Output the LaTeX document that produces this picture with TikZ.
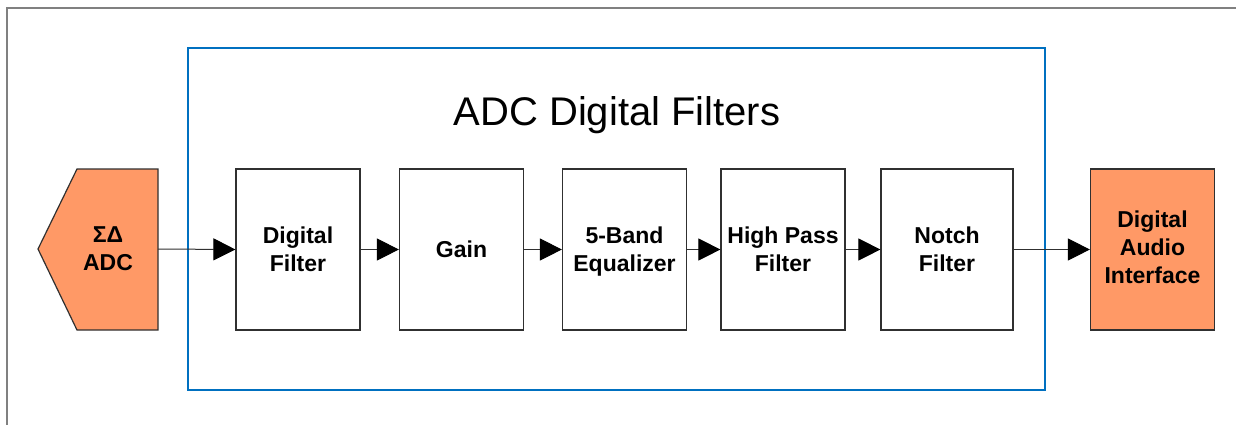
\documentclass[tikz,border=0pt]{standalone}
\usepackage{fontspec}
\setmainfont{Liberation Sans}
\usetikzlibrary{arrows.meta}
\definecolor{adcorange}{HTML}{FF9966}
\definecolor{frameblue}{HTML}{0070C0}
\definecolor{edge}{HTML}{303030}
\begin{document}
\begin{tikzpicture}[x=1pt,y=-1pt,
  lbl/.style={align=center,inner sep=0pt,font=\fontsize{23}{28}\selectfont\bfseries},
  blk/.style={lbl,draw=edge,line width=1.2pt,fill=white,minimum width=124pt,minimum height=161pt},
  arr/.style={draw=edge,line width=1pt,-{Triangle[length=22pt,width=22pt,color=black]}}]
\useasboundingbox (0,0) rectangle (1236,424);
\fill[white] (0,0) rectangle (1236,424);
% outer frame
\draw[gray,line width=1.2pt] (7,8) rectangle (1260,450);
% blue filter region
\draw[frameblue,line width=1.2pt] (188,48) rectangle (1045,390);
\node[font=\fontsize{40}{48}\selectfont] (title) at (617,115) {ADC Digital Filters};
% ADC pentagon
\draw[edge,line width=1.2pt,fill=adcorange] (38,249) -- (77,169) -- (158,169) -- (158,330) -- (77,330) -- cycle;
\node[lbl] (adc) at (108,249) {ΣΔ\\ADC};
\coordinate (adcR) at (158,249);
% blocks
\node[blk] (df) at (298,249.5) {Digital\\Filter};
\node[blk] (gain) at (461.5,249.5) {Gain};
\node[blk] (eq) at (624.5,249.5) {5-Band\\\smash{Equalizer}};
\node[blk] (hp) at (783,249.5) {High Pass\\Filter};
\node[blk,minimum width=132pt] (notch) at (947,249.5) {Notch\\Filter};
\node[blk,fill=adcorange] (dai) at (1152.5,249.5) {};
\node[lbl,yshift=2.5pt] (daitext) at (dai.center) {Digital\\Audio\\Interface};
% connectors
\draw[arr] (adcR) -- (df.west);
\draw[arr] (df.east) -- (gain.west);
\draw[arr] (gain.east) -- (eq.west);
\draw[arr] (eq.east) -- (hp.west);
\draw[arr] (hp.east) -- (notch.west);
\draw[arr] (notch.east) -- (dai.west);
\end{tikzpicture}
\end{document}
